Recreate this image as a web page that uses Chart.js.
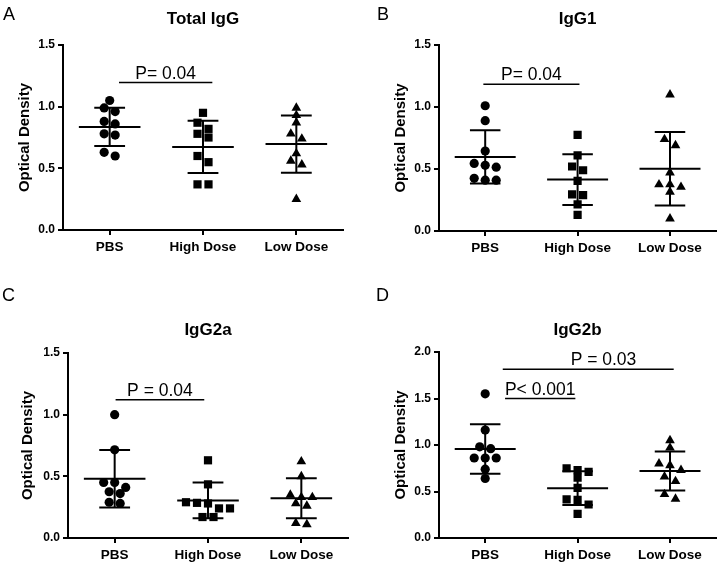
<!DOCTYPE html>
<html><head><meta charset="utf-8">
<script src="https://cdn.jsdelivr.net/npm/chart.js@4.4.0/dist/chart.umd.min.js"></script>
<style>
html,body{margin:0;padding:0;background:#fff;}
#wrap{position:relative;width:722px;height:563px;overflow:hidden;}
canvas{position:absolute;}
</style></head><body>
<div id="wrap">
<canvas id="cA" width="361" height="281" style="left:0;top:0"></canvas>
<canvas id="cB" width="361" height="281" style="left:361px;top:0"></canvas>
<canvas id="cC" width="361" height="282" style="left:0;top:281px"></canvas>
<canvas id="cD" width="361" height="282" style="left:361px;top:281px"></canvas>
</div>
<script>
// ---------- data ----------
const categories = ['PBS', 'High Dose', 'Low Dose'];
const panelLetters = ['A', 'B', 'C', 'D'];
const panelTitles = ['Total IgG', 'IgG1', 'IgG2a', 'IgG2b'];
const yAxisTitle = 'Optical Density';
const yTicks15 = [0, 0.5, 1.0, 1.5];
const yTicks20 = [0, 0.5, 1.0, 1.5, 2.0];

const totalIgG_PBS  = [1.05, 0.99, 0.96, 0.88, 0.86, 0.78, 0.77, 0.63, 0.60];
const totalIgG_High = [0.95, 0.87, 0.82, 0.78, 0.75, 0.60, 0.55, 0.37, 0.37];
const totalIgG_Low  = [0.99, 0.93, 0.87, 0.78, 0.74, 0.62, 0.56, 0.53, 0.25];

const igG1_PBS  = [1.01, 0.89, 0.645, 0.545, 0.53, 0.515, 0.425, 0.41, 0.41];
const igG1_High = [0.775, 0.61, 0.52, 0.49, 0.405, 0.295, 0.29, 0.215, 0.13];
const igG1_Low  = [1.10, 0.74, 0.69, 0.47, 0.375, 0.375, 0.355, 0.315, 0.10];

const igG2a_PBS  = [1.00, 0.715, 0.45, 0.45, 0.41, 0.375, 0.36, 0.29, 0.28];
const igG2a_High = [0.63, 0.435, 0.29, 0.285, 0.28, 0.24, 0.24, 0.17, 0.17];
const igG2a_Low  = [0.62, 0.50, 0.35, 0.33, 0.33, 0.28, 0.26, 0.12, 0.11];

const igG2b_PBS  = [1.55, 1.16, 0.98, 0.96, 0.86, 0.86, 0.86, 0.74, 0.64];
const igG2b_High = [0.75, 0.73, 0.71, 0.65, 0.54, 0.415, 0.41, 0.36, 0.26];
const igG2b_Low  = [1.05, 0.97, 0.80, 0.78, 0.73, 0.66, 0.61, 0.47, 0.42];

// significance annotations: group span, height (OD), label
const sig_totalIgG = [{from: 0.1, to: 1.1, y: 1.195, label: 'P= 0.04'}];
const sig_igG1     = [{from: -0.02, to: 1.02, y: 1.183, label: 'P= 0.04'}];
const sig_igG2a    = [{from: 0.01, to: 0.96, y: 1.12, label: 'P = 0.04'}];
const sig_igG2b    = [{from: 0.19, to: 2.04, y: 1.815, label: 'P = 0.03', at: 1.28},
                      {from: 0.215, to: 0.976, y: 1.50, label: 'P< 0.001'}];

// ---------- drawing ----------
const FONT = '"Liberation Sans", Arial, sans-serif';
const STYLES = [
  {pointStyle: 'circle', radius: 4.6},
  {pointStyle: 'rect', radius: 5.8},
  {pointStyle: 'triangle', radius: 5.6}
];
const SLOT = 11, ROW_H = 7;

function meanSd(a) {
  const m = a.reduce((s, v) => s + v, 0) / a.length;
  const sd = Math.sqrt(a.reduce((s, v) => s + (v - m) * (v - m), 0) / (a.length - 1));
  return [m, sd];
}
function swarm(values, pxPerUnit) {
  const idx = values.map((v, i) => i).sort((a, b) => values[b] - values[a]);
  const off = values.map(() => 0);
  let row = [];
  const flush = () => { const n = row.length; row.forEach((k, j) => off[k] = (j - (n - 1) / 2) * SLOT); row = []; };
  for (const k of idx) {
    if (row.length && (values[row[0]] - values[k]) * pxPerUnit >= ROW_H) flush();
    row.push(k);
  }
  flush();
  return off;
}

function makeTextPlugin(p) {
  return {
    id: 'panelText_' + p.letter,
    afterDraw(chart) {
      const {ctx, chartArea, scales: {x, y}} = chart;
      ctx.save();
      ctx.fillStyle = '#000';
      ctx.textBaseline = 'alphabetic';
      ctx.font = '18px ' + FONT;
      ctx.textAlign = 'left';
      ctx.fillText(p.letter, p.letterX, p.letterY);
      ctx.font = 'bold 17px ' + FONT;
      ctx.textAlign = 'center';
      ctx.fillText(p.title, (chartArea.left + chartArea.right) / 2, p.titleY);
      ctx.font = '17.5px ' + FONT;
      for (const s of p.sig) {
        const cx = (typeof s.at === 'number') ? s.at : (s.from + s.to) / 2;
        ctx.fillText(s.label, x.getPixelForValue(cx), y.getPixelForValue(s.y) - 4);
      }
      ctx.restore();
    }
  };
}

function makePanel(id, p) {
  const groups = p.groups;
  const pointSets = groups.map((vals, i) => ({
    label: categories[i],
    data: vals.map(v => ({x: i, y: v})),
    pointStyle: STYLES[i].pointStyle,
    pointRadius: STYLES[i].radius,
    backgroundColor: '#000',
    borderColor: '#000',
    borderWidth: 0,
    showLine: false
  }));
  const bars = [];
  groups.forEach((vals, i) => {
    const [m, sd] = meanSd(vals);
    bars.push({x: i - 0.33, y: m}, {x: i + 0.33, y: m}, {x: i, y: null});
    bars.push({x: i - 0.165, y: m + sd}, {x: i + 0.165, y: m + sd}, {x: i, y: null});
    bars.push({x: i - 0.165, y: m - sd}, {x: i + 0.165, y: m - sd}, {x: i, y: null});
    bars.push({x: i, y: m - sd}, {x: i, y: m + sd}, {x: i, y: null});
  });
  const sigLines = [];
  p.sig.forEach(s => sigLines.push({x: s.from, y: s.y}, {x: s.to, y: s.y}, {x: s.to, y: null}));
  const lineDs = (data, w) => ({data, showLine: true, spanGaps: false, borderColor: '#000',
    borderWidth: w, pointRadius: 0, fill: false, backgroundColor: '#000'});
  const tickFont = {family: FONT, size: 12, weight: 'bold'};
  const chart = new Chart(document.getElementById(id), {
    type: 'scatter',
    data: {datasets: [...pointSets, lineDs(bars, 2), lineDs(sigLines, 1.5)]},
    options: {
      responsive: false, animation: false, devicePixelRatio: 1, events: [],
      layout: {padding: {top: p.top, right: p.right, bottom: 0, left: 0}},
      plugins: {legend: {display: false}, tooltip: {enabled: false}, title: {display: false}},
      scales: {
        x: {type: 'linear', min: -0.5, max: 2.5,
          afterBuildTicks: s => { s.ticks = [0, 1, 2].map(v => ({value: v})); },
          afterFit: s => { s.height = p.xH; },
          ticks: {callback: v => categories[v], font: {family: FONT, size: 13.5, weight: 'bold'}, color: '#000', padding: 4, maxRotation: 0, autoSkip: false},
          grid: {display: true, drawOnChartArea: false, drawTicks: true, tickLength: 5, color: '#000', lineWidth: 2},
          border: {display: true, color: '#000', width: 2}},
        y: {type: 'linear', min: 0, max: p.yMax,
          afterBuildTicks: s => { s.ticks = p.yTicks.map(v => ({value: v})); },
          afterFit: s => { s.width = p.yW; },
          ticks: {callback: v => v.toFixed(1), font: tickFont, color: '#000', padding: 3},
          grid: {display: true, drawOnChartArea: false, drawTicks: true, tickLength: 5, color: '#000', lineWidth: 2},
          border: {display: true, color: '#000', width: 2},
          title: {display: true, text: yAxisTitle, color: '#000', font: {family: FONT, size: 15, weight: 'bold', lineHeight: 1.2}, padding: {top: p.yTitlePad, bottom: 0}}}
      }
    },
    plugins: [makeTextPlugin(p)]
  });
  // spread overlapping points sideways (column scatter), using the scales' pixel sizes
  const pxPerUnit = (chart.scales.y.bottom - chart.scales.y.top) / p.yMax;
  const pxPerCat = (chart.scales.x.right - chart.scales.x.left) / 3;
  groups.forEach((vals, i) => {
    const off = swarm(vals, pxPerUnit);
    chart.data.datasets[i].data = vals.map((v, k) => ({x: i + off[k] / pxPerCat, y: v}));
  });
  chart.update('none');
}

makePanel('cA', {groups: [totalIgG_PBS, totalIgG_High, totalIgG_Low], sig: sig_totalIgG,
  letter: panelLetters[0], letterX: 3, letterY: 20, title: panelTitles[0], titleY: 23.5,
  top: 45, right: 18, xH: 51, yW: 63, yTitlePad: 16, yMax: 1.5, yTicks: yTicks15});
makePanel('cB', {groups: [igG1_PBS, igG1_High, igG1_Low], sig: sig_igG1,
  letter: panelLetters[1], letterX: 16, letterY: 19.5, title: panelTitles[1], titleY: 24,
  top: 45, right: 3, xH: 50, yW: 78, yTitlePad: 31, yMax: 1.5, yTicks: yTicks15});
makePanel('cC', {groups: [igG2a_PBS, igG2a_High, igG2a_Low], sig: sig_igG2a,
  letter: panelLetters[2], letterX: 2, letterY: 20, title: panelTitles[2], titleY: 53.5,
  top: 72, right: 13, xH: 25, yW: 68, yTitlePad: 19, yMax: 1.5, yTicks: yTicks15});
makePanel('cD', {groups: [igG2b_PBS, igG2b_High, igG2b_Low], sig: sig_igG2b,
  letter: panelLetters[3], letterX: 15, letterY: 20, title: panelTitles[3], titleY: 53.5,
  top: 71, right: 3, xH: 25, yW: 78, yTitlePad: 31, yMax: 2.0, yTicks: yTicks20});
</script>
</body></html>
